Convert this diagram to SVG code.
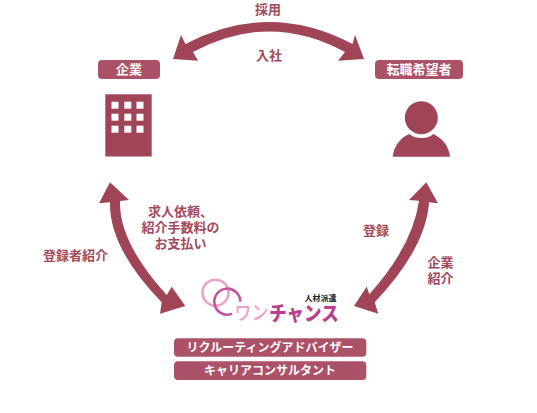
<svg xmlns="http://www.w3.org/2000/svg" width="537" height="413" viewBox="0 0 537 413">
<style>
text{font-family:"Noto Sans CJK JP","Noto Sans",sans-serif;font-weight:700;text-anchor:middle;dominant-baseline:central}
.t{font-size:13px;fill:#a24a5c}
.w{font-size:13px;fill:#fff}
.b{font-size:12px;fill:#fff}
.tag{fill:#ab5168}
.a{fill:#a04558}
</style>
<rect width="537" height="413" fill="#fff"/>
<g id="connectors" class="a">
<path id="arrow-top" d="M173,59L181,35L185.500,44Q269,0 352.500,44L355,35L364,59L338,60.700L345,52Q269,11 193,52L198,60.700Z"/>
<path id="arrow-left" d="M110,182.300L129,200L120,201Q118.600,242 166.700,295L171.700,286.700L185.300,306L160,313.700L161.700,302.300Q109,248 110,202.300L99,203.300Z"/>
<path id="arrow-right" d="M426.300,182.300L438,203.300L429,202.300Q426,248 374.700,302.300L378.300,313.700L354,306L366.700,286.700L369.300,294.300Q412.600,246 419,200.700L409,200Z"/>
</g>
<g id="edge-labels">
<text class="t" x="268" y="8.500">採用</text>
<text class="t" x="269" y="54">入社</text>
<text class="t" x="75.500" y="254">登録者紹介</text>
<text class="t" y="210"><tspan x="180.500">求人依頼、</tspan><tspan x="180.500" dy="16">紹介手数料の</tspan><tspan x="180.500" dy="16">お支払い</tspan></text>
<text class="t" x="376" y="229.500">登録</text>
<text class="t" y="260.500"><tspan x="440.500">企業</tspan><tspan x="440.500" dy="16">紹介</tspan></text>
</g>
<g id="node-company">
<rect class="tag" x="98" y="60" width="62" height="19" rx="4"/>
<text class="w" x="129" y="68.500">企業</text>
<rect class="a" x="105.300" y="94.300" width="46.400" height="62.200"/>
<g fill="#fff">
<rect x="111.500" y="101.700" width="7" height="7"/><rect x="124.300" y="101.700" width="7" height="7"/><rect x="136.500" y="101.700" width="7" height="7"/>
<rect x="111.500" y="113.700" width="7" height="7"/><rect x="124.300" y="113.700" width="7" height="7"/><rect x="136.500" y="113.700" width="7" height="7"/>
<rect x="111.500" y="125.700" width="7" height="7"/><rect x="124.300" y="125.700" width="7" height="7"/><rect x="136.500" y="125.700" width="7" height="7"/>
</g>
</g>
<g id="node-seeker">
<rect class="tag" x="375" y="60" width="88" height="19" rx="4"/>
<text class="w" x="419" y="68.500">転職希望者</text>
<circle class="a" cx="421.300" cy="117.700" r="16.500"/>
<path class="a" d="M392.700,156.700C394,146 401,137 409.300,134C413,137 417,138 421.300,138C426,138 430,137 433.300,134C442,138 449,146 450,156.700Z"/>
</g>
<g id="node-onechance">
<circle cx="215.500" cy="292.700" r="13" fill="none" stroke="#e8a3c9" stroke-width="2.600"/>
<path d="M232,313.800A13,13 0 1 1 240.300,301.700" fill="none" stroke="#c4559f" stroke-width="2.600"/>
<text transform="translate(251.500,311.500) scale(1,1.150)" font-size="17" style="font-weight:500;fill:#e8a3c9">ワン</text>
<text transform="translate(304,311.500) scale(1,1.150)" font-size="17.500" style="font-weight:900;fill:#b9408f">チャンス</text>
<text x="320.500" y="297" font-size="8" style="fill:#222">人材派遣</text>
<rect class="tag" x="174" y="338.300" width="192.300" height="18.400" rx="4"/>
<text class="b" x="270" y="346.500">リクルーティングアドバイザー</text>
<rect class="tag" x="174" y="361.300" width="192.300" height="18.700" rx="4"/>
<text class="b" x="270" y="369.700">キャリアコンサルタント</text>
</g>
</svg>
